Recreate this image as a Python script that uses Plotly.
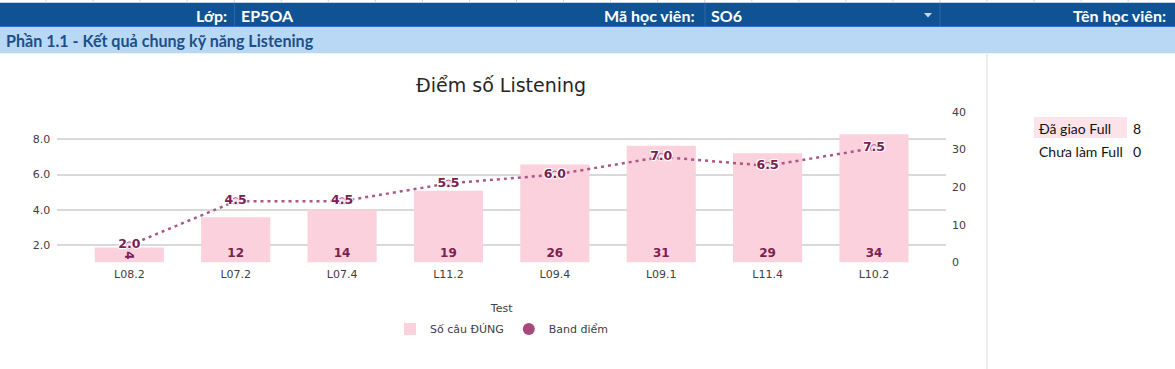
import plotly.graph_objects as go

W, H = 1175, 369

# ---- data ----
tests = ["L08.2", "L07.2", "L07.4", "L11.2", "L09.4", "L09.1", "L11.4", "L10.2"]
correct_counts = [4, 12, 14, 19, 26, 31, 29, 34]
band_scores = [2.0, 4.5, 4.5, 5.5, 6.0, 7.0, 6.5, 7.5]
left_ticks = [2, 4, 6, 8]
right_ticks = [0, 10, 20, 30, 40]
class_name = "EP5OA"
student_id = "SO6"
table_labels = ["Đã giao Full", "Chưa làm Full"]
table_values = [8, 0]

BAR_COLOR = "#fad1dc"
LINE_COLOR = "#ad5688"
MARK_COLOR = "#a54a7b"
LABEL_COLOR = "#7b2152"
CHART_FONT = "DejaVu Sans"
SHEET_FONT = "Lato"


def fx(px):
    return px / W


def fy(py):
    return 1 - py / H


fig = go.Figure()

fig.add_trace(go.Bar(
    x=tests, y=correct_counts, name="Số câu ĐÚNG",
    marker=dict(color=BAR_COLOR, line=dict(width=0)),
    text=[str(v) for v in correct_counts],
    textposition="inside", insidetextanchor="start",
    textfont=dict(family=CHART_FONT, size=12, color=LABEL_COLOR, weight="bold"),
    yaxis="y", hoverinfo="skip",
))

fig.add_trace(go.Scatter(
    x=tests, y=band_scores, name="Band điểm",
    mode="lines+markers+text",
    line=dict(color=LINE_COLOR, width=2.5, dash="3px,4px"),
    marker=dict(size=7, color="#f3dbe6", line=dict(color=LINE_COLOR, width=1)),
    text=[f"{v:.1f}" for v in band_scores],
    textposition="middle center",
    textfont=dict(family=CHART_FONT, size=12.5, color=LABEL_COLOR, weight="bold",
                  shadow="1px 1px 1px #fff, -1px -1px 1px #fff, 1px -1px 1px #fff, -1px 1px 1px #fff"),
    yaxis="y2", showlegend=False, hoverinfo="skip",
))

# legend-only marker for the line series
fig.add_trace(go.Scatter(
    x=[None], y=[None], name="Band điểm", mode="markers",
    marker=dict(size=12, color=MARK_COLOR), yaxis="y2",
))

shapes = []
# top spreadsheet strip column separators
for k in range(25):
    xs = 46 + 47.05 * k
    if xs > W:
        break
    shapes.append(dict(type="line", xref="paper", yref="paper",
                       x0=fx(xs), x1=fx(xs), y0=fy(0), y1=fy(3),
                       line=dict(color="#d4d4d4", width=1)))
# dark header band
shapes.append(dict(type="rect", xref="paper", yref="paper", x0=0, x1=1,
                   y0=fy(26.7), y1=fy(2.7), fillcolor="#0f5394", line=dict(width=0), layer="below"))
for xs in [234.4, 705, 940]:
    shapes.append(dict(type="line", xref="paper", yref="paper", x0=fx(xs), x1=fx(xs),
                       y0=fy(26.7), y1=fy(2.7), line=dict(color="#2c68a8", width=1)))
# light section band
shapes.append(dict(type="rect", xref="paper", yref="paper", x0=0, x1=1,
                   y0=fy(53.3), y1=fy(26.7), fillcolor="#b9d8f3", line=dict(width=0), layer="below"))
shapes.append(dict(type="line", xref="paper", yref="paper", x0=0, x1=1,
                   y0=fy(26.5), y1=fy(26.5), line=dict(color="#2f74c0", width=1)))
# dropdown arrow
shapes.append(dict(type="path", xref="paper", yref="paper",
                   path=f"M {fx(924)} {fy(13)} L {fx(932)} {fy(13)} L {fx(928)} {fy(17.5)} Z",
                   fillcolor="#c9d6e8", line=dict(width=0)))
# sheet vertical gridline right of chart
shapes.append(dict(type="line", xref="paper", yref="paper", x0=fx(987), x1=fx(987),
                   y0=0, y1=fy(53.3), line=dict(color="#dcdcdc", width=1)))
# table highlight
shapes.append(dict(type="rect", xref="paper", yref="paper", x0=fx(1034), x1=fx(1127),
                   y0=fy(138), y1=fy(117), fillcolor="#fce3e9", line=dict(width=0), layer="below"))

annotations = []


def ann(text, x, y, xanchor, size, color, family, bold=False):
    annotations.append(dict(text=text, xref="paper", yref="paper", x=fx(x), y=fy(y),
                            xanchor=xanchor, yanchor="middle", showarrow=False,
                            font=dict(family=family, size=size, color=color,
                                      weight="bold" if bold else "normal")))


ann("Lớp:", 229, 15, "right", 16, "white", SHEET_FONT, True)
ann(class_name, 239, 15, "left", 16, "white", SHEET_FONT, True)
ann("Mã học viên:", 697, 15, "right", 16, "white", SHEET_FONT, True)
ann(student_id, 709, 15, "left", 16, "white", SHEET_FONT, True)
ann("Tên học viên:", 1168, 15, "right", 16, "white", SHEET_FONT, True)
ann("Phần 1.1 - Kết quả chung kỹ năng Listening", 4, 40, "left", 16.1, "#1c4f8a", SHEET_FONT, True)
ann("Điểm số Listening", 501, 85, "center", 19, "#262626", CHART_FONT)
for i, (lab, val) in enumerate(zip(table_labels, table_values)):
    ann(lab, 1037, 128 + 23 * i, "left", 14, "#111111", SHEET_FONT)
    ann(str(val), 1131, 128 + 23 * i, "left", 14, "#111111", SHEET_FONT)

tick_font = dict(family=CHART_FONT, size=11, color="#404040")

fig.update_layout(
    width=W, height=H, autosize=False,
    margin=dict(l=0, r=0, t=0, b=0, pad=0, autoexpand=False),
    paper_bgcolor="white", plot_bgcolor="rgba(0,0,0,0)",
    bargap=0.35,
    showlegend=True,
    legend=dict(orientation="h", x=fx(502), y=fy(329), xanchor="center", yanchor="middle",
                font=dict(family=CHART_FONT, size=11, color="#404040"),
                itemwidth=30, bgcolor="rgba(0,0,0,0)"),
    uniformtext=dict(minsize=12, mode="show"),
    xaxis=dict(type="category", domain=[fx(57.3), fx(946)], range=[-0.677, 7.677],
               showgrid=False, showline=False, ticks="", tickfont=tick_font,
               ticklabelstandoff=3,
               title=dict(text="Test", font=dict(family=CHART_FONT, size=11, color="#404040"), standoff=24),
               automargin=False, fixedrange=True),
    yaxis=dict(domain=[fy(262.5), fy(111.7)], range=[0, 40], side="right", anchor="x",
               tickvals=right_ticks, showgrid=False, zeroline=False, showline=False,
               ticks="", tickfont=tick_font, ticklabelstandoff=5, automargin=False, fixedrange=True),
    yaxis2=dict(overlaying="y", side="left", anchor="x", range=[1.03, 9.56],
                tickvals=left_ticks, ticktext=[f"{v:.1f}" for v in left_ticks],
                showgrid=True, gridcolor="#d9d9d9", gridwidth=1.5, zeroline=False,
                showline=False, ticks="", tickfont=tick_font, ticklabelstandoff=6,
                automargin=False, fixedrange=True),
    shapes=shapes,
    annotations=annotations,
)

fig.write_html("out.html", config={"displayModeBar": False},
               post_script="document.body.style.margin='0';document.body.style.overflow='hidden';")
